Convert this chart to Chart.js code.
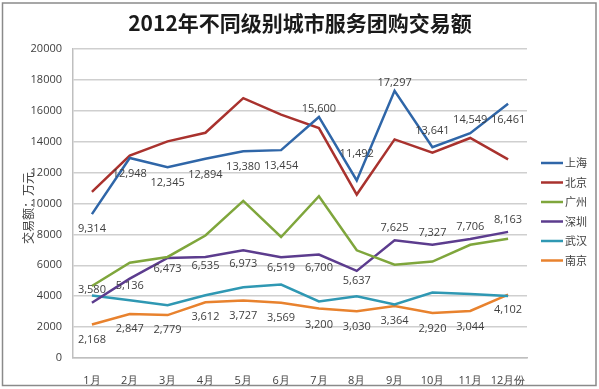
<!DOCTYPE html>
<html>
<head>
<meta charset="utf-8">
<script src="https://cdn.jsdelivr.net/npm/chart.js@4.4.1/dist/chart.umd.min.js"></script>
<style>
  html, body { margin: 0; padding: 0; background: #fff; }
  #wrap { width: 599px; height: 389px; position: relative; }
</style>
</head>
<body>
<div id="wrap"><canvas id="c" width="599" height="389"></canvas></div>
<script>
const MONTHS = ['1月', '2月', '3月', '4月', '5月', '6月', '7月', '8月', '9月', '10月', '11月', '12月份'];
const Y_TICKS = [0, 2000, 4000, 6000, 8000, 10000, 12000, 14000, 16000, 18000, 20000];

const SHANGHAI = [9314, 12948, 12345, 12894, 13380, 13454, 15600, 11492, 17297, 13641, 14549, 16461];
const BEIJING  = [10750, 13100, 14020, 14580, 16820, 15750, 14880, 10580, 14150, 13290, 14240, 12860];
const GUANGZHOU = [4660, 6170, 6540, 7930, 10170, 7830, 10470, 6970, 6040, 6240, 7330, 7720];
const SHENZHEN = [3580, 5136, 6473, 6535, 6973, 6519, 6700, 5637, 7625, 7327, 7706, 8163];
const WUHAN    = [4040, 3740, 3420, 4060, 4580, 4750, 3660, 4000, 3460, 4240, 4150, 4020];
const NANJING  = [2168, 2847, 2779, 3612, 3727, 3569, 3200, 3030, 3364, 2920, 3044, 4102];

// 数据标签的上下偏移 (像素)
const SH_LABEL_DY = [15, 16, 16, 16, 16, 16, -8, -27, -8, -16, -13, 16];
const SZ_LABEL_DY = [-13, 7, 11, 9, 14, 11, 13, 10, -12, -12, -12, -12];
const NJ_LABEL_DY = [15, 15, 15, 15, 15, 15, 16, 16, 15, 16, 16, 15];

const FONT = '"Open Sans", "Noto Sans", sans-serif';

function series(label, data, color, labelDy) {
  return { label, data, borderColor: color, backgroundColor: color, borderWidth: 2.5,
           tension: 0, pointRadius: 0, pointHoverRadius: 0, fill: false, labelDy };
}

const fmt = (v) => v.toLocaleString('en-US');

const decor = {
  id: 'decor',
  afterDatasetsDraw(chart) {
    const ctx = chart.ctx;
    ctx.save();
    // 数据标签
    ctx.font = '11px ' + FONT;
    ctx.fillStyle = '#404040';
    ctx.textAlign = 'center';
    ctx.textBaseline = 'middle';
    chart.data.datasets.forEach((ds, di) => {
      if (!ds.labelDy) return;
      chart.getDatasetMeta(di).data.forEach((pt, i) => {
        ctx.fillText(fmt(ds.data[i]), pt.x, pt.y + ds.labelDy[i]);
      });
    });
    // 图例
    ctx.textAlign = 'left';
    ctx.font = '11px "Noto Sans CJK SC", sans-serif';
    chart.data.datasets.forEach((ds, i) => {
      const y = 163 + i * 19.5;
      ctx.strokeStyle = ds.borderColor;
      ctx.lineWidth = 2.5;
      ctx.beginPath(); ctx.moveTo(541, y); ctx.lineTo(563, y); ctx.stroke();
      ctx.fillStyle = '#404040';
      ctx.fillText(ds.label, 565, y);
    });
    // 标题
    ctx.textAlign = 'center';
    ctx.fillStyle = '#1a1a1a';
    ctx.font = 'bold 21px "Noto Sans CJK SC", sans-serif';
    ctx.fillText('2012年不同级别城市服务团购交易额', 300, 23);
    // 纵轴标题
    ctx.save();
    ctx.translate(28, 208);
    ctx.rotate(-Math.PI / 2);
    ctx.font = '12px "Noto Sans CJK SC", sans-serif';
    ctx.fillStyle = '#404040';
    ctx.fillText('交易额：万元', 0, 0);
    ctx.restore();
    // 外框
    ctx.strokeStyle = '#8a8a8a';
    ctx.lineWidth = 1.5;
    ctx.strokeRect(2.5, 3, 593.5, 382.5);
    ctx.restore();
  }
};

new Chart(document.getElementById('c'), {
  type: 'line',
  data: {
    labels: MONTHS,
    datasets: [
      series('上海', SHANGHAI, '#2f66a8', SH_LABEL_DY),
      series('北京', BEIJING, '#a9322e'),
      series('广州', GUANGZHOU, '#7fa63c'),
      series('深圳', SHENZHEN, '#5c3c8e', SZ_LABEL_DY),
      series('武汉', WUHAN, '#2f98b3'),
      series('南京', NANJING, '#e8822e', NJ_LABEL_DY),
    ],
  },
  options: {
    responsive: false, animation: false,
    layout: { padding: { top: 49, right: 72, left: 0, bottom: 0 } },
    plugins: { legend: { display: false }, tooltip: { enabled: false } },
    scales: {
      x: {
        offset: true,
        grid: { display: false },
        border: { color: '#bfbfbf', width: 1.5 },
        ticks: { color: '#404040', font: { size: 11, family: FONT }, padding: 8, maxRotation: 0 },
        afterFit: (s) => { s.height = 31; },
      },
      y: {
        min: 0, max: 20000,
        afterBuildTicks: (s) => { s.ticks = Y_TICKS.map((v) => ({ value: v })); },
        grid: { color: '#cfcfcf', lineWidth: 1.5, drawTicks: false },
        border: { color: '#bfbfbf', width: 1.5 },
        ticks: { color: '#404040', font: { size: 11, family: FONT }, padding: 11, callback: (v) => String(v) },
        afterFit: (s) => { s.width = 73; },
      },
    },
  },
  plugins: [decor],
});
</script>
</body>
</html>
